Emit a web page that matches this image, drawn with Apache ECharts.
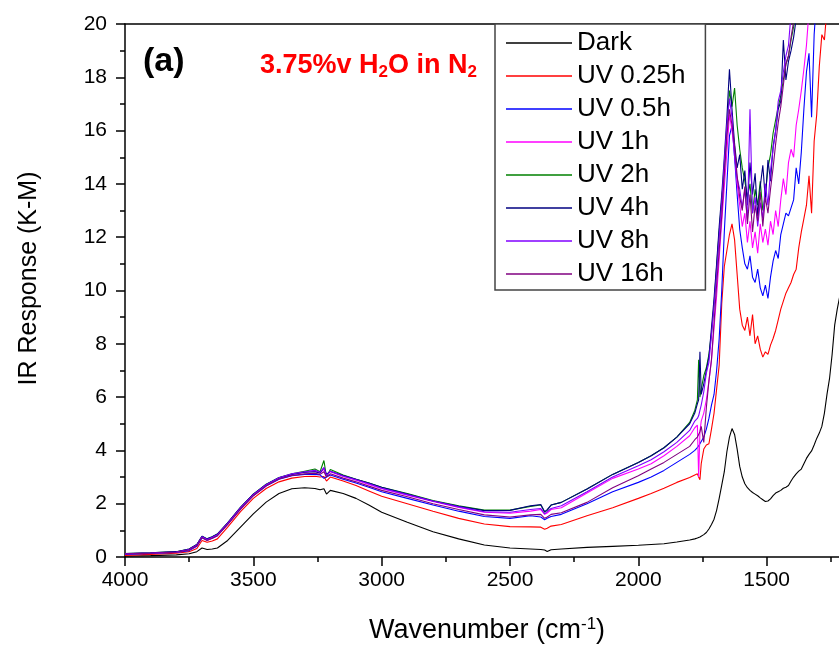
<!DOCTYPE html>
<html>
<head>
<meta charset="utf-8">
<title>IR response vs wavenumber</title>
<script src="https://cdn.jsdelivr.net/npm/echarts@6/dist/echarts.min.js"></script>
<style>
  html, body { margin: 0; padding: 0; background: #fff; }
  #chart { width: 839px; height: 648px; }
</style>
</head>
<body>
<div id="chart"></div>
<script>
  // wavenumber (cm-1), shared by every spectrum
  var wavenumbers = [
    4000, 3900, 3800, 3750, 3720, 3700, 3680, 3660, 3640, 3600,
    3550, 3500, 3450, 3400, 3350, 3300,
    3260, 3240, 3225, 3215, 3200,
    3150, 3100, 3050, 3000,
    2900, 2800, 2700, 2600, 2500,
    2420, 2380, 2365, 2355, 2340, 2300,
    2200, 2100, 2000, 1950, 1900, 1850, 1800,
    1780, 1770, 1765, 1760, 1755,
    1745, 1735, 1725, 1715, 1705, 1695, 1685, 1675, 1665, 1655,
    1645, 1635, 1625, 1615, 1605, 1595, 1585, 1575, 1565, 1555,
    1545, 1535, 1525, 1515, 1505, 1495, 1485, 1475, 1465, 1455,
    1445, 1435, 1425, 1415, 1405, 1395, 1385, 1375, 1365, 1355,
    1345, 1335, 1325, 1315, 1305, 1295, 1285, 1275, 1265, 1255,
    1245, 1235, 1225, 1215, 1205
  ];

  // K-M response
  var dark = [
    0.03, 0.05, 0.08, 0.12, 0.2, 0.34, 0.28, 0.3, 0.34, 0.62,
    1.12, 1.62, 2.06, 2.38, 2.56, 2.6,
    2.57, 2.52, 2.56, 2.36, 2.5,
    2.38, 2.2, 1.95, 1.68,
    1.3, 0.95, 0.68, 0.45, 0.34,
    0.3, 0.28, 0.26, 0.21, 0.27, 0.3,
    0.36, 0.4, 0.44, 0.47, 0.5, 0.56, 0.64,
    0.68, 0.71, 0.73, 0.75, 0.78,
    0.84, 0.92, 1.05, 1.22, 1.42, 1.75, 2.2, 2.7, 3.2, 3.95,
    4.5, 4.82, 4.6, 4.05, 3.4, 3.0, 2.75, 2.6, 2.5, 2.42,
    2.36, 2.3, 2.22, 2.15, 2.08, 2.1, 2.18, 2.3, 2.4, 2.45,
    2.5, 2.58, 2.62, 2.68, 2.85, 3.0, 3.12, 3.22, 3.3, 3.5,
    3.7, 3.85, 3.98, 4.2, 4.45, 4.65, 4.9, 5.4, 6.1, 6.7,
    7.6, 8.7, 9.3, 9.8, 10.1
  ];
  var uv025 = [
    0.06, 0.1, 0.14, 0.2, 0.32, 0.62, 0.55, 0.6, 0.68, 1.12,
    1.7, 2.2, 2.57, 2.82, 2.96, 3.02,
    3.03, 3.0, 3.02, 2.85, 3.0,
    2.85, 2.68, 2.48, 2.28,
    2.0, 1.72, 1.45, 1.24, 1.14,
    1.13, 1.12, 1.04, 1.08, 1.16, 1.22,
    1.55, 1.85, 2.2, 2.38, 2.58, 2.8, 2.98,
    3.08, 3.12, 3.0, 2.9, 3.5,
    4.05, 4.2, 4.25, 4.8, 5.4, 6.3, 7.2, 9.5, 10.9, 11.5,
    12.1, 12.5, 11.9, 10.6, 9.3, 8.7, 8.5, 9.0, 8.3, 9.1,
    8.0, 8.3, 7.8, 7.5, 7.7, 7.6, 7.95, 8.2, 8.5, 8.9,
    9.3, 9.6, 9.9, 10.1, 10.3, 10.6, 10.8, 11.6, 12.2, 12.7,
    13.2, 14.3, 12.9, 15.6, 16.6, 18.4, 19.6, 19.4, 20.6, 22,
    23, 24, 24, 24, 24
  ];
  var uv05 = [
    0.1, 0.13, 0.17, 0.24, 0.4, 0.72, 0.63, 0.7, 0.8, 1.22,
    1.8, 2.3, 2.66, 2.92, 3.05, 3.1,
    3.1, 3.08, 2.95, 3.0, 3.08,
    2.92, 2.78, 2.62, 2.45,
    2.2, 1.95, 1.72, 1.52, 1.45,
    1.55, 1.5, 1.4, 1.45, 1.52, 1.6,
    2.0, 2.45, 2.8, 3.0, 3.25, 3.55, 3.85,
    4.0, 4.1, 4.15, 4.25, 4.3,
    4.5, 4.8, 5.2, 5.7, 6.1, 7.0, 8.2, 10.0, 12.2, 14.0,
    15.8, 16.2, 15.0, 13.6, 12.3, 11.6, 11.0, 10.8, 11.3, 10.5,
    10.3, 10.8, 10.1, 9.8, 10.2, 9.7, 10.5, 11.1, 11.5, 11.2,
    12.1, 12.5, 12.9, 12.8, 13.1, 13.4, 14.6, 14.0, 15.2, 16.8,
    18.2, 18.9, 16.5, 19.6, 21, 22, 23, 24, 24, 24,
    24, 24, 24, 24, 24
  ];
  var uv1 = [
    0.12, 0.15, 0.19, 0.28, 0.45, 0.76, 0.66, 0.74, 0.84, 1.26,
    1.84, 2.34, 2.7, 2.96, 3.1, 3.18,
    3.22, 3.15, 3.3, 3.05, 3.2,
    3.02, 2.88, 2.72, 2.56,
    2.32, 2.08, 1.86, 1.68, 1.64,
    1.72, 1.78, 1.6, 1.65, 1.78, 1.85,
    2.4, 2.95, 3.3, 3.5, 3.8, 4.15, 4.55,
    4.85, 4.95, 3.0, 4.7, 5.1,
    5.4, 5.9, 6.6, 7.4, 8.6, 9.8, 11.2, 12.6, 13.9, 15.2,
    16.6, 16.0, 15.2, 14.0, 13.2, 12.4, 12.9, 11.8, 12.6, 11.6,
    12.2, 11.4, 12.5, 11.8, 12.3, 11.7, 12.6, 12.1, 13.0, 12.4,
    13.4, 14.2, 13.6, 14.8, 15.3, 15.0, 16.2, 16.8, 17.5, 18.3,
    19.2, 20.5, 22, 23, 24, 24, 24, 24, 24, 24,
    24, 24, 24, 24, 24
  ];
  var uv2 = [
    0.13, 0.16, 0.2, 0.3, 0.47, 0.78, 0.68, 0.76, 0.86, 1.28,
    1.86, 2.36, 2.73, 2.98, 3.12, 3.22,
    3.3, 3.2, 3.62, 3.0, 3.28,
    3.08, 2.92, 2.78, 2.62,
    2.38, 2.12, 1.92, 1.76, 1.76,
    1.9, 1.95, 1.68, 1.75, 1.95, 2.05,
    2.55, 3.1, 3.55, 3.8, 4.1, 4.5, 5.05,
    5.5, 5.9, 7.4, 6.0, 6.3,
    6.8, 7.1, 7.6, 8.4, 9.5, 10.9, 12.2, 13.4, 14.5, 16.0,
    17.5, 16.9, 17.6, 16.2, 15.3, 14.6, 14.1, 13.5, 14.0, 12.9,
    13.8, 13.2, 14.1, 13.0, 13.6, 14.6, 15.1, 15.9, 16.4, 16.9,
    17.3, 17.9, 18.5, 18.8, 19.4, 19.9, 20.6, 22, 23, 24,
    24, 24, 24, 24, 24, 24, 24, 24, 24, 24,
    24, 24, 24, 24, 24
  ];
  var uv4 = [
    0.13, 0.16, 0.2, 0.3, 0.47, 0.78, 0.68, 0.76, 0.86, 1.28,
    1.86, 2.36, 2.72, 2.97, 3.1, 3.18,
    3.2, 3.15, 3.35, 3.1, 3.22,
    3.06, 2.92, 2.78, 2.62,
    2.36, 2.1, 1.9, 1.74, 1.75,
    1.92, 1.97, 1.7, 1.78, 1.95, 2.05,
    2.55, 3.1, 3.55, 3.8, 4.1, 4.5, 5.0,
    5.4, 5.75, 5.9, 7.7, 6.1,
    6.5, 7.0, 7.5, 8.6, 9.7, 11.0, 12.4, 13.6, 15.0, 16.5,
    18.3, 16.8, 15.5, 14.6, 15.1, 13.8, 14.5, 13.2, 14.8, 13.6,
    14.4, 12.8, 13.9, 14.7, 13.4, 14.9, 14.1, 15.4, 16.0, 16.8,
    17.1, 19.4, 17.9, 18.6, 19.0, 19.5, 20.2, 21, 23, 24,
    24, 24, 24, 24, 24, 24, 24, 24, 24, 24,
    24, 24, 24, 24, 24
  ];
  var uv8 = [
    0.12, 0.15, 0.19, 0.28, 0.45, 0.76, 0.66, 0.74, 0.84, 1.26,
    1.84, 2.34, 2.71, 2.97, 3.12, 3.2,
    3.25, 3.18, 3.35, 3.05, 3.22,
    3.04, 2.9, 2.75, 2.58,
    2.34, 2.1, 1.88, 1.7, 1.68,
    1.78, 1.82, 1.62, 1.7, 1.82, 1.92,
    2.45, 3.0, 3.42, 3.65, 3.95, 4.3, 4.75,
    5.1, 5.2, 5.3, 5.5, 5.7,
    6.2, 6.9, 7.3, 8.3, 9.4, 10.6, 12.0, 13.3, 14.8, 16.2,
    17.2, 16.5, 15.0, 14.2, 13.8, 13.1, 13.8, 12.6, 16.8, 12.9,
    13.5, 12.4, 13.3, 12.7, 14.0, 13.2, 14.5, 15.3, 16.0, 17.1,
    17.5, 18.2, 18.8, 19.2, 20.4, 21, 22, 23, 24, 24,
    24, 24, 24, 24, 24, 24, 24, 24, 24, 24,
    24, 24, 24, 24, 24
  ];
  var uv16 = [
    0.11, 0.14, 0.18, 0.26, 0.42, 0.72, 0.62, 0.7, 0.8, 1.22,
    1.8, 2.3, 2.67, 2.93, 3.06, 3.12,
    3.14, 3.1, 3.2, 3.0, 3.12,
    2.96, 2.82, 2.66, 2.5,
    2.26, 2.0, 1.78, 1.58, 1.5,
    1.58, 1.6, 1.45, 1.5, 1.6, 1.66,
    2.05, 2.6, 3.05, 3.3, 3.55, 3.85, 4.15,
    4.4, 4.5, 4.6, 4.7, 4.9,
    4.3, 5.6, 6.6, 7.4, 8.8, 10.2, 11.5, 12.8, 14.4, 15.8,
    16.8, 16.2, 15.4, 14.3, 13.5, 13.0, 13.9, 12.5, 13.6, 12.2,
    13.2, 12.6, 13.7, 12.4, 13.5, 12.9, 13.8, 14.6, 15.5, 16.3,
    16.9, 17.7, 18.5, 18.8, 19.5, 20.1, 21, 22, 23, 24,
    24, 24, 24, 24, 24, 24, 24, 24, 24, 24,
    24, 24, 24, 24, 24
  ];

  var seriesNames = ['Dark', 'UV 0.25h', 'UV 0.5h', 'UV 1h', 'UV 2h', 'UV 4h', 'UV 8h', 'UV 16h'];
  var spectra = [dark, uv025, uv05, uv1, uv2, uv4, uv8, uv16];
  var lineColors = ['#000000', '#ff0000', '#0000ff', '#ff00ff', '#008000', '#000080', '#8000ff', '#800080'];

  var font = 'Liberation Sans';

  var series = [];
  for (var i = 0; i < spectra.length; i++) {
    var pts = [];
    for (var j = 0; j < wavenumbers.length; j++) {
      pts.push([wavenumbers[j], spectra[i][j]]);
    }
    series.push({
      name: seriesNames[i],
      type: 'line',
      data: pts,
      symbol: 'none',
      clip: true,
      lineStyle: { width: 1.1, color: lineColors[i] },
      itemStyle: { color: lineColors[i] }
    });
  }

  function plainNum(v) {
    return String(v);
  }

  var myChart = echarts.init(document.getElementById('chart'));
  myChart.setOption({
    animation: false,
    // x range runs on past the right edge of the picture (cut off at ~1215)
    grid: { left: 125, top: 24, width: 770, height: 533, containLabel: false, outerBoundsMode: 'none' },
    title: [
      {
        text: '(a)', left: 138, top: 40,
        textStyle: { fontSize: 34, fontWeight: 'bold', color: '#000', fontFamily: font }
      },
      {
        text: '3.75%v H{s|2}O in N{s|2}', left: 255, top: 45,
        textStyle: {
          fontSize: 27, fontWeight: 'bold', color: '#ff0000', fontFamily: font,
          rich: {
            s: { fontSize: 17, fontWeight: 'bold', color: '#ff0000', fontFamily: font, padding: [14, 0, 0, 0] }
          }
        }
      },
      {
        text: 'Wavenumber (cm{sup|-1})', left: 482, top: 611, textAlign: 'center',
        textStyle: {
          fontSize: 27, fontWeight: 'normal', color: '#000', fontFamily: font,
          rich: {
            sup: { fontSize: 17, color: '#000', fontFamily: font, padding: [0, 0, 13, 0] }
          }
        }
      }
    ],
    legend: {
      orient: 'vertical',
      left: 495, top: 24,
      data: seriesNames,
      selectedMode: false,
      icon: 'rect',
      itemWidth: 66, itemHeight: 1.3, itemGap: 3,
      padding: [4, 20, 1, 11],
      backgroundColor: '#fff',
      borderColor: '#444', borderWidth: 1.5,
      textStyle: { fontSize: 26, lineHeight: 30, color: '#000', fontFamily: font }
    },
    xAxis: [{
      type: 'value', inverse: true,
      min: 1000, max: 4000, interval: 500,
      axisLine: { lineStyle: { color: '#000', width: 1.5 } },
      axisTick: { length: 9, lineStyle: { color: '#000', width: 1.5 } },
      minorTick: { show: true, splitNumber: 2, length: 5, lineStyle: { color: '#000', width: 1.5 } },
      splitLine: { show: false },
      axisLabel: { color: '#000', fontSize: 21, fontFamily: font, margin: 13, formatter: plainNum }
    }, {
      // top frame line
      type: 'value', inverse: true, position: 'top',
      min: 1000, max: 4000,
      axisLine: { show: true, lineStyle: { color: '#000', width: 1.5 } },
      axisTick: { show: false },
      axisLabel: { show: false },
      splitLine: { show: false }
    }],
    yAxis: {
      type: 'value',
      min: 0, max: 20, interval: 2,
      name: 'IR Response (K-M)',
      nameLocation: 'middle', nameGap: 83,
      nameTextStyle: { fontSize: 25, color: '#000', fontFamily: font, padding: [0, 0, 0, 24] },
      axisLine: { show: true, lineStyle: { color: '#000', width: 1.5 } },
      axisTick: { length: 9, lineStyle: { color: '#000', width: 1.5 } },
      minorTick: { show: true, splitNumber: 2, length: 5, lineStyle: { color: '#000', width: 1.5 } },
      splitLine: { show: false },
      axisLabel: { color: '#000', fontSize: 21, fontFamily: font, margin: 18, formatter: plainNum }
    },
    series: series
  });
</script>
</body>
</html>
